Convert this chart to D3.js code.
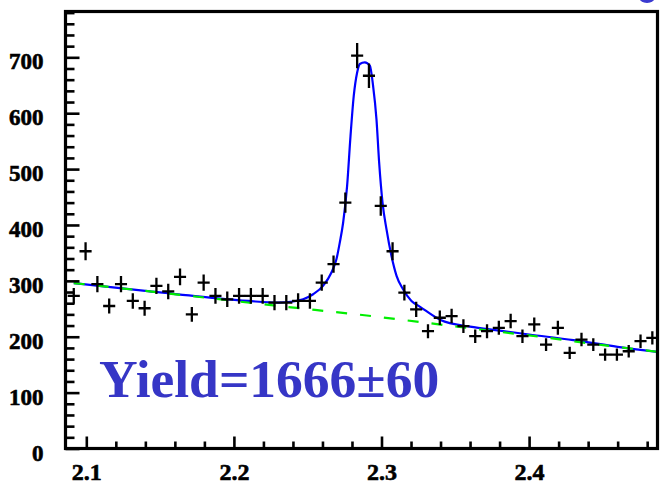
<!DOCTYPE html>
<html>
<head>
<meta charset="utf-8">
<script src="https://cdn.jsdelivr.net/npm/d3@7"></script>
<style>
  html, body { margin: 0; padding: 0; background: #fff; }
  svg { display: block; }
</style>
</head>
<body>
<svg id="chart" width="660" height="490"></svg>
<script>
// Histogram bin centres (GeV) and entries per bin
const binCenters = [2.0915, 2.0995, 2.1075, 2.1155, 2.1235, 2.1315, 2.1395, 2.1475, 2.1555, 2.1635,
                    2.1715, 2.1795, 2.1875, 2.1955, 2.2035, 2.2115, 2.2195, 2.2275, 2.2355, 2.2435,
                    2.2515, 2.2595, 2.2675, 2.2755, 2.2835, 2.2915, 2.2995, 2.3075, 2.3155, 2.3235,
                    2.3315, 2.3395, 2.3475, 2.3555, 2.3635, 2.3715, 2.3795, 2.3875, 2.3955, 2.4035,
                    2.4115, 2.4195, 2.4275, 2.4355, 2.4435, 2.4515, 2.4595, 2.4675, 2.4755, 2.4835];
const counts = [273, 353, 294, 255, 294, 264, 251, 291, 281, 307,
                240, 297, 273, 267, 273, 273, 273, 261, 261, 264,
                264, 297, 330, 440, 703, 667, 434, 353, 279, 249,
                210, 234, 237, 219, 201, 210, 216, 228, 201, 222,
                186, 216, 171, 195, 186, 168, 168, 174, 192, 198];
const countErrors = [14, 16, 14.5, 13.5, 14.5, 14, 13.5, 14.5, 14, 15,
                     13, 14.5, 14, 14, 14, 14, 14, 13.5, 13.5, 14,
                     14, 14.5, 15.5, 18, 22.5, 22, 17.5, 16, 14, 13.5,
                     12.5, 13, 13, 12.5, 12, 12.5, 12.5, 13, 12, 12.5,
                     11.5, 12.5, 11, 12, 11.5, 11, 11, 11, 12, 12];
const binHalfWidth = 0.0041;

// Total fit (signal + background), sampled
const fitX = [2.0915, 2.14, 2.1838, 2.21, 2.23, 2.24, 2.2469, 2.2537, 2.2604, 2.2661,
              2.2695, 2.2717, 2.2740, 2.2767, 2.2790, 2.2812, 2.2835, 2.2853, 2.2887, 2.2921,
              2.2943, 2.2966, 2.2984, 2.3007, 2.3034, 2.3068, 2.3102, 2.3146, 2.3203, 2.3259,
              2.34, 2.36, 2.38, 2.40, 2.43, 2.46, 2.487];
const fitY = [296, 282, 270, 264, 261, 263, 267, 276, 291, 315,
              339, 368, 404, 470, 559, 631, 673, 688, 691, 685,
              649, 589, 512, 440, 392, 344, 309, 285, 264, 254,
              230, 218, 211, 204, 194, 182, 173];

// Background component of the fit, sampled
const bkgX = [2.0915, 2.14, 2.1838, 2.22, 2.255, 2.29, 2.3239, 2.37, 2.41, 2.45, 2.487];
const bkgY = [296, 282, 269, 258, 248, 238, 227, 212, 199, 185, 173];

// Axis ticks
const xMajorTicks = [2.1, 2.2, 2.3, 2.4];
const xMinorTicks = [2.12, 2.14, 2.16, 2.18, 2.22, 2.24, 2.26, 2.28, 2.32, 2.34, 2.36, 2.38, 2.42, 2.44, 2.46, 2.48];
const yMajorTicks = [0, 100, 200, 300, 400, 500, 600, 700];
const yMinorTicks = [20, 40, 60, 80, 120, 140, 160, 180, 220, 240, 260, 280, 320, 340, 360, 380,
                     420, 440, 460, 480, 520, 540, 560, 580, 620, 640, 660, 680, 720, 740, 760, 780];

const yieldLabel = "Yield=1666\u00B160";

const svg = d3.select("#chart");
const plot = { left: 65.5, right: 657.5, top: 11.5, bottom: 448.5 };

const x = d3.scaleLinear().domain([2.0859, 2.487]).range([plot.left, plot.right]);
const y = d3.scaleLinear().domain([0, 782]).range([plot.bottom, plot.top]);

// Partially visible logo in the top-right corner
svg.append("ellipse")
  .attr("cx", 647).attr("cy", -3).attr("rx", 8).attr("ry", 6)
  .attr("fill", "#3a3ad0");

const clipId = "plot-clip";
svg.append("clipPath").attr("id", clipId)
  .append("rect")
  .attr("x", plot.left).attr("y", plot.top)
  .attr("width", plot.right - plot.left).attr("height", plot.bottom - plot.top);

const inner = svg.append("g").attr("clip-path", `url(#${clipId})`);

// Fit curves: total in blue, dashed background in green on top
const line = d3.line().x(d => x(d[0])).y(d => y(d[1])).curve(d3.curveMonotoneX);

inner.append("path")
  .datum(fitX.map((v, i) => [v, fitY[i]]))
  .attr("d", line)
  .attr("fill", "none")
  .attr("stroke", "#0000ff")
  .attr("stroke-width", 2.2);

inner.append("path")
  .datum(bkgX.map((v, i) => [v, bkgY[i]]))
  .attr("d", line)
  .attr("fill", "none")
  .attr("stroke", "#00ee00")
  .attr("stroke-width", 2.2)
  .attr("stroke-dasharray", "11,13");

// Data points with error crosses
const pts = inner.append("g").attr("stroke", "#000").attr("stroke-width", 2.3);
binCenters.forEach((c, i) => {
  pts.append("line")
    .attr("x1", x(c - binHalfWidth)).attr("x2", x(c + binHalfWidth))
    .attr("y1", y(counts[i])).attr("y2", y(counts[i]));
  pts.append("line")
    .attr("x1", x(c)).attr("x2", x(c))
    .attr("y1", y(counts[i] - countErrors[i])).attr("y2", y(counts[i] + countErrors[i]));
});

// Axes (ticks pointing into the frame)
const labelFont = "'Liberation Serif', 'Times New Roman', serif";

const gx = svg.append("g").attr("transform", `translate(0,${plot.bottom})`);
gx.call(d3.axisBottom(x).tickValues(xMajorTicks).tickSize(-12).tickPadding(14.5)
      .tickFormat(d3.format(".1f")));
const gxMinor = svg.append("g").attr("transform", `translate(0,${plot.bottom})`);
gxMinor.call(d3.axisBottom(x).tickValues(xMinorTicks).tickSize(-7).tickFormat(""));

const gy = svg.append("g").attr("transform", `translate(${plot.left},0)`);
gy.call(d3.axisLeft(y).tickValues(yMajorTicks).tickSize(-14).tickPadding(22)
      .tickFormat(d3.format("d")));
const gyMinor = svg.append("g").attr("transform", `translate(${plot.left},0)`);
gyMinor.call(d3.axisLeft(y).tickValues(yMinorTicks).tickSize(-9).tickFormat(""));

[gx, gxMinor, gy, gyMinor].forEach(g => {
  g.select(".domain").remove();
  g.selectAll(".tick line").attr("stroke", "#000").attr("stroke-width", 2.6);
});
gx.selectAll(".tick text")
  .attr("font-family", labelFont).attr("font-weight", "bold")
  .attr("font-size", 24).attr("fill", "#000")
  .attr("stroke", "#000").attr("stroke-width", 0.6);
gy.selectAll(".tick text")
  .attr("font-family", labelFont).attr("font-weight", "bold")
  .attr("font-size", 23).attr("fill", "#000").attr("dy", "0.5em")
  .attr("stroke", "#000").attr("stroke-width", 0.6);

// Frame
svg.append("rect")
  .attr("x", plot.left).attr("y", plot.top)
  .attr("width", plot.right - plot.left).attr("height", plot.bottom - plot.top)
  .attr("fill", "none").attr("stroke", "#000").attr("stroke-width", 3.2);

// Yield annotation
svg.append("text")
  .attr("x", 99).attr("y", 397)
  .attr("font-family", labelFont).attr("font-weight", "bold")
  .attr("font-size", 53.5).attr("fill", "#3636c6")
  .text(yieldLabel);
</script>
</body>
</html>
